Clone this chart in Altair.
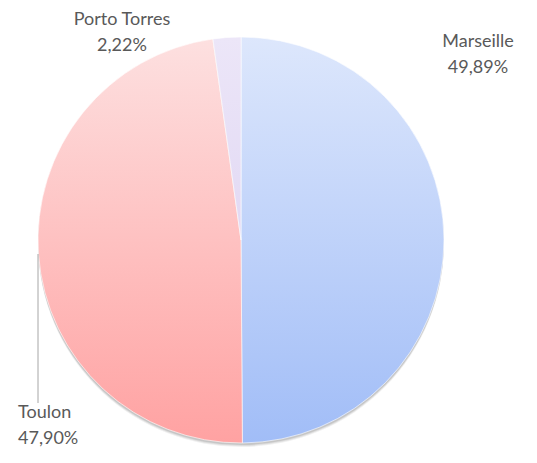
import altair as alt
import pandas as pd

cities = ["Marseille", "Toulon", "Porto Torres"]
shares = [49.89, 47.90, 2.22]
labels_pct = ["49,89%", "47,90%", "2,22%"]

df = pd.DataFrame({"city": cities, "share": shares, "pct": labels_pct, "order": [0, 1, 2]})

CX, CY, R = 233, 232, 203

grads = {
    "Marseille": ("#dde7fc", "#a1bdf7"),
    "Toulon": ("#fde0e0", "#ffa2a2"),
    "Porto Torres": ("#ece6f8", "#e2d9f4"),
}

base = alt.Chart(df).transform_stack(
    stack="share", groupby=[], as_=["start", "end"], sort=[alt.SortField("order")]
)

theta_scale = alt.Scale(domain=[0, 100], range=[0, 6.283185307])

layers = []
for dy, op in [(4, 0.06), (3, 0.08), (2, 0.1)]:
    layers.append(
        base.mark_arc(outerRadius=R, color="#000000", opacity=op).encode(
            theta=alt.Theta("start:Q", scale=theta_scale),
            theta2="end:Q",
            x=alt.value(CX),
            y=alt.value(CY + dy),
        )
    )

for c in cities:
    top, bot = grads[c]
    layers.append(
        base.transform_filter(alt.datum.city == c)
        .mark_arc(
            outerRadius=R,
            color=alt.Gradient(
                gradient="linear",
                stops=[alt.GradientStop(color=top, offset=0), alt.GradientStop(color=bot, offset=1)],
                x1=0, x2=0, y1=0, y2=1,
            ),
            stroke="#ffffff",
            strokeWidth=0.6,
        )
        .encode(
            theta=alt.Theta("start:Q", scale=theta_scale),
            theta2="end:Q",
            x=alt.value(CX),
            y=alt.value(CY),
        )
    )

label_pos = {
    "Marseille": (470, 34, "center"),
    "Toulon": (10, 405, "left"),
    "Porto Torres": (114, 12, "center"),
}
for c in cities:
    lx, ly, al = label_pos[c]
    for i, field in enumerate(["city", "pct"]):
        layers.append(
            alt.Chart(df)
            .transform_filter(alt.datum.city == c)
            .mark_text(font="Lato", fontSize=18, color="#595959", align=al, baseline="middle")
            .encode(text=f"{field}:N", x=alt.value(lx), y=alt.value(ly + i * 26))
        )

leader = alt.Chart(df).transform_filter(alt.datum.city == "Toulon").mark_rule(
    color="#a6a6a6", strokeWidth=1
).encode(x=alt.value(30), y=alt.value(246), y2=alt.value(395))
layers.append(leader)

chart = alt.layer(*layers).properties(
    width=521, height=447, autosize=alt.AutoSizeParams(type="none"), padding=0
).configure_view(stroke=None)

chart.save("out.html", embed_options={"renderer": "svg", "actions": False})
